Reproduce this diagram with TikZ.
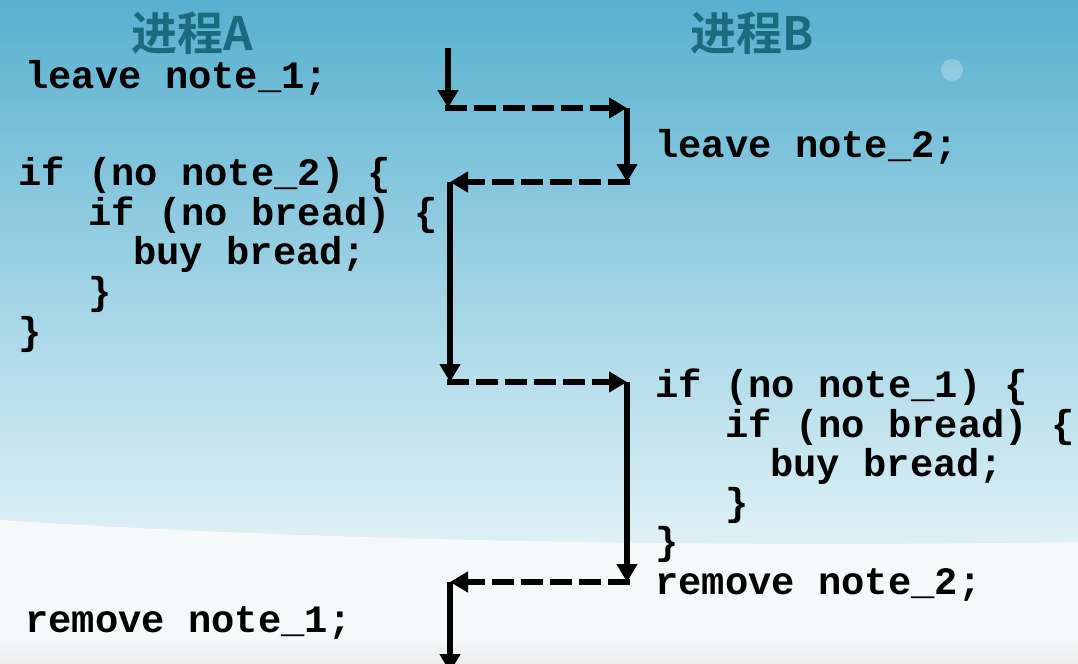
\documentclass[tikz,border=0pt]{standalone}
\usepackage{fontspec}
\usepackage{xcolor}
\usepackage{tikz}
\usetikzlibrary{arrows.meta}
\setmonofont{Liberation Mono}
\newfontfamily\cjk{Noto Sans CJK SC}[BoldFont={Noto Sans CJK SC Bold}]
\definecolor{skytop}{HTML}{58B0CF}
\definecolor{skymid}{HTML}{A3D5E6}
\definecolor{skylow}{HTML}{E0F1F6}
\definecolor{snow}{HTML}{F6F9FA}
\definecolor{floor}{HTML}{ECECEC}
\definecolor{titleteal}{HTML}{1B6A7E}
\newcommand{\codefont}{\fontsize{19.4}{20}\selectfont\ttfamily\bfseries}
\tikzset{
  code/.style={anchor=base west, inner sep=0pt, font=\codefont},
  title/.style={inner sep=0pt, font=\fontsize{23}{24}\selectfont\cjk\bfseries, text=titleteal},
  flow/.style={line width=3pt, -{Triangle[length=9pt,width=10pt]}},
  handoff/.style={flow, dash pattern=on 11pt off 3.5pt, shorten <=-1.5pt}
}
\begin{document}
\begin{tikzpicture}[x=0.5pt,y=-0.5pt]
\clip (0,0) rectangle (1078,664);
% background
\shade[top color=skytop, bottom color=skymid] (0,0) rectangle (1078,300);
\shade[top color=skymid, bottom color=skylow] (0,300) rectangle (1078,550);
\fill[snow] (0,520) .. controls (300,540) and (700,548) .. (1078,542) -- (1078,664) -- (0,664) -- cycle;
\shade[top color=snow, bottom color=floor] (0,638) rectangle (1078,664);
\fill[white, opacity=0.25] (952,70) circle (11);

% titles
\node[title] (tA) at (192,33) {进程A};
\node[title] (tB) at (752,33) {进程B};

% process A
\node[code] (aleave) at (25,88) {leave note\_1;};
\node[code] (aif) at (18,185) {if (no note\_2) \{};
\node[code] (aifb) at (88,225) {if (no bread) \{};
\node[code] (abuy) at (133,264) {buy bread;};
\node[code] (aend) at (88,304) {\}};
\node[code] (aendif) at (18,344) {\}};
\node[code] (arm) at (25,632) {remove note\_1;};

% process B
\node[code] (bleave) at (655,157) {leave note\_2;};
\node[code] (bif) at (655,397) {if (no note\_1) \{};
\node[code] (bifb) at (725,437) {if (no bread) \{};
\node[code] (bbuy) at (770,476) {buy bread;};
\node[code] (bend) at (725,515) {\}};
\node[code] (bendif) at (655,554) {\}};
\node[code] (brm) at (655,594) {remove note\_2;};

% switch points
\coordinate (s0) at (448,48);
\coordinate (s1) at (448,108);
\coordinate (s2) at (627,108);
\coordinate (s3) at (627,182);
\coordinate (s4) at (450,182);
\coordinate (s5) at (450,382);
\coordinate (s6) at (627,382);
\coordinate (s7) at (627,582);
\coordinate (s8) at (450,582);
\coordinate (s9) at (450,672);

\draw[flow] (s0) -- (s1);
\draw[handoff] (s1) -- (s2);
\draw[flow] (s2) -- (s3);
\draw[handoff] (s3) -- (s4);
\draw[flow] (s4) -- (s5);
\draw[handoff] (s5) -- (s6);
\draw[flow] (s6) -- (s7);
\draw[handoff] (s7) -- (s8);
\draw[flow] (s8) -- (s9);
\end{tikzpicture}
\end{document}
